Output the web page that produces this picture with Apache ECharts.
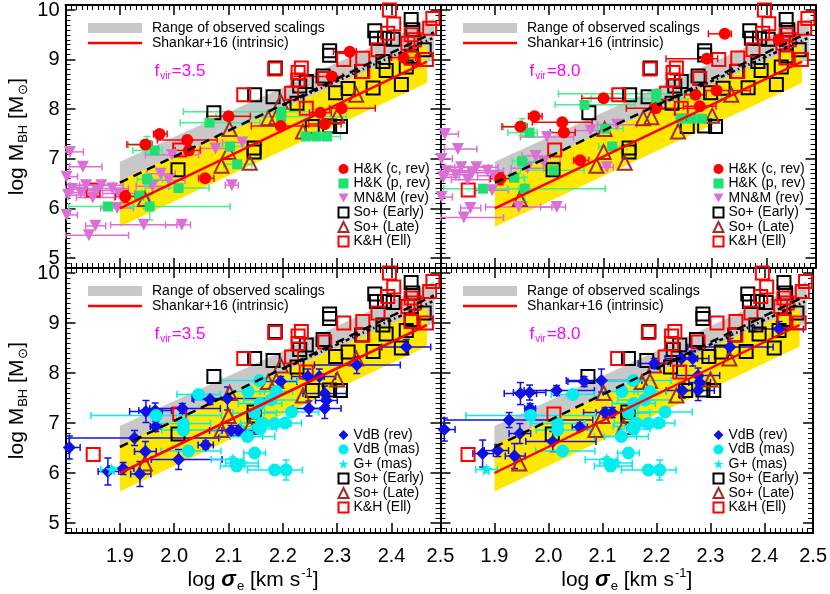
<!DOCTYPE html>
<html>
<head>
<meta charset="utf-8">
<script src="https://cdn.jsdelivr.net/npm/echarts@6/dist/echarts.min.js"></script>
<style>html,body{margin:0;padding:0;background:#fff}#c{width:830px;height:594px}</style>
</head>
<body>
<div id="c"></div>
<script>
// ---------------- data (log sigma_e, log M_BH, err-, err+, yerr-, yerr+) ----------------
const fvirLeft = 3.5, fvirRight = 8.0;
const FVIR_SHIFT = Math.log10(fvirRight / fvirLeft); // virial masses scale linearly with f_vir

// reverberation samples, values as plotted for f_vir = 3.5
const hkCoreRev = [
  [1.973, 7.50, 0.011, 0.014, 0.05, 0.05], [1.947, 7.29, 0.034, 0.012, 0.04, 0.04],
  [2.024, 7.38, 0.055, 0.055, 0.05, 0.05], [2.027, 7.17, 0.025, 0.021, 0.04, 0.04],
  [2.057, 6.61, 0.012, 0.016, 0.05, 0.05], [1.910, 6.24, 0.018, 0.018, 0.12, 0.12],
  [2.100, 7.86, 0.040, 0.040, 0.06, 0.06], [2.196, 7.66, 0.054, 0.084, 0.05, 0.05],
  [2.269, 7.93, 0.020, 0.020, 0.04, 0.04], [2.277, 7.70, 0.030, 0.030, 0.04, 0.04],
  [2.308, 8.02, 0.022, 0.062, 0.05, 0.05], [2.290, 8.66, 0.075, 0.020, 0.06, 0.06],
  [2.323, 9.16, 0.030, 0.012, 0.04, 0.04], [2.422, 9.04, 0.022, 0.022, 0.05, 0.05]
];
const hkPseudoRev = [
  [2.065, 7.73, 0.054, 0.093, 0.05, 0.05], [1.950, 7.28, 0.034, 0.009, 0.17, 0.17],
  [1.964, 7.17, 0.040, 0.014, 0.06, 0.06], [2.103, 7.25, 0.024, 0.033, 0.05, 0.05],
  [2.116, 6.89, 0.025, 0.027, 0.04, 0.04], [1.950, 6.59, 0.018, 0.028, 0.10, 0.10],
  [1.936, 6.26, 0.035, 0.017, 0.05, 0.05], [2.008, 6.41, 0.061, 0.056, 0.05, 0.05],
  [1.878, 6.04, 0.072, 0.066, 0.04, 0.04], [1.955, 6.04, 0.032, 0.148, 0.27, 0.23],
  [2.197, 7.95, 0.180, 0.090, 0.05, 0.05], [2.197, 7.85, 0.120, 0.120, 0.05, 0.05],
  [2.243, 7.45, 0.010, 0.010, 0.03, 0.03], [2.262, 7.45, 0.010, 0.010, 0.03, 0.03],
  [2.281, 7.45, 0.010, 0.025, 0.03, 0.03]
];
const mnmRev = [
  [1.808, 7.14, 0.010, 0.025, 0, 0], [1.832, 6.84, 0.025, 0.035, 0, 0],
  [1.802, 6.64, 0.005, 0.020, 0, 0], [1.812, 6.39, 0.012, 0.040, 0, 0],
  [1.828, 6.32, 0.020, 0.030, 0, 0], [1.838, 6.47, 0.030, 0.050, 0, 0],
  [1.850, 6.22, 0.030, 0.040, 0, 0], [1.866, 6.47, 0.040, 0.040, 0, 0],
  [1.886, 6.40, 0.050, 0.030, 0, 0], [1.898, 6.30, 0.030, 0.030, 0, 0],
  [1.858, 6.36, 0.030, 0.030, 0, 0], [1.805, 6.27, 0.005, 0.030, 0, 0],
  [1.895, 6.01, 0.030, 0.030, 0, 0], [1.802, 5.87, 0.005, 0.020, 0, 0],
  [1.855, 5.65, 0.018, 0.019, 0, 0], [1.944, 5.67, 0.061, 0.061, 0, 0],
  [2.014, 5.67, 0.030, 0.016, 0, 0], [1.843, 5.46, 0.043, 0.073, 0, 0],
  [1.975, 6.70, 0.025, 0.027, 0, 0], [1.990, 6.57, 0.030, 0.030, 0, 0],
  [1.960, 6.45, 0.030, 0.030, 0, 0], [1.996, 7.08, 0.049, 0.049, 0, 0],
  [2.076, 7.21, 0.028, 0.024, 0, 0], [2.125, 7.33, 0.036, 0.036, 0, 0],
  [2.106, 6.47, 0.012, 0.012, 0, 0]
];
const vdbRev = [
  [1.807, 6.51, 0.007, 0.020, 0.23, 0.23], [1.878, 6.03, 0.018, 0.020, 0.27, 0.27],
  [1.906, 6.09, 0.025, 0.020, 0.12, 0.12], [1.937, 5.98, 0.017, 0.020, 0.25, 0.25],
  [1.947, 6.43, 0.020, 0.020, 0.20, 0.20], [1.927, 6.70, 0.120, 0.155, 0.15, 0.15],
  [1.948, 7.23, 0.030, 0.030, 0.22, 0.22], [1.965, 7.25, 0.030, 0.030, 0.15, 0.15],
  [1.966, 6.93, 0.010, 0.010, 0.10, 0.10], [2.015, 7.29, 0.060, 0.070, 0.10, 0.10],
  [2.066, 7.47, 0.030, 0.030, 0.10, 0.10], [2.098, 7.49, 0.065, 0.075, 0.23, 0.23],
  [2.058, 6.56, 0.014, 0.014, 0.08, 0.08], [2.008, 6.27, 0.050, 0.080, 0.20, 0.20],
  [2.105, 6.85, 0.040, 0.040, 0.10, 0.10], [2.118, 6.85, 0.030, 0.030, 0.10, 0.10],
  [2.196, 7.83, 0.030, 0.030, 0.10, 0.10], [2.246, 7.93, 0.030, 0.030, 0.15, 0.15],
  [2.267, 7.93, 0.030, 0.030, 0.15, 0.15], [2.336, 8.16, 0.078, 0.080, 0.17, 0.17],
  [2.427, 8.52, 0.045, 0.045, 0.15, 0.15], [2.277, 7.59, 0.040, 0.040, 0.15, 0.15],
  [2.280, 7.45, 0.020, 0.020, 0.10, 0.10], [2.277, 7.29, 0.030, 0.030, 0.20, 0.20],
  [2.248, 7.29, 0.030, 0.030, 0.15, 0.15]
];
// maser samples (independent of f_vir)
const vdbMas = [
  [1.967, 7.15, 0.120, 0.120, 0.05, 0.05], [2.017, 6.99, 0.050, 0.050, 0.05, 0.05],
  [2.017, 6.86, 0.040, 0.060, 0.05, 0.05], [2.045, 7.57, 0.040, 0.040, 0.05, 0.05],
  [2.026, 6.44, 0.050, 0.060, 0.05, 0.05], [2.157, 7.85, 0.070, 0.070, 0.05, 0.05],
  [2.136, 7.63, 0.030, 0.030, 0.05, 0.05], [2.188, 7.63, 0.030, 0.030, 0.05, 0.05],
  [2.178, 7.46, 0.050, 0.050, 0.05, 0.05], [2.158, 7.39, 0.040, 0.040, 0.05, 0.05],
  [2.148, 7.20, 0.040, 0.040, 0.05, 0.05], [2.162, 7.00, 0.040, 0.040, 0.05, 0.05],
  [2.185, 6.99, 0.030, 0.030, 0.05, 0.05], [2.204, 7.00, 0.030, 0.030, 0.05, 0.05],
  [2.216, 7.22, 0.050, 0.050, 0.05, 0.05], [2.158, 6.88, 0.030, 0.030, 0.05, 0.05],
  [2.135, 6.73, 0.050, 0.050, 0.05, 0.05], [2.148, 6.40, 0.020, 0.020, 0.07, 0.07],
  [2.115, 6.14, 0.030, 0.040, 0.10, 0.10], [2.185, 6.06, 0.050, 0.020, 0.05, 0.05],
  [2.206, 6.06, 0.030, 0.030, 0.20, 0.20]
];
const gMas = [
  [1.885, 6.07, 0.020, 0.020, 0.05, 0.05], [2.108, 6.27, 0.040, 0.020, 0.05, 0.05],
  [2.125, 6.20, 0.030, 0.030, 0.05, 0.05], [2.133, 6.73, 0.030, 0.030, 0.05, 0.05],
  [2.150, 6.93, 0.030, 0.030, 0.05, 0.05]
];
// dynamical samples (same in every panel)
const soEarly = [
  [2.369, 9.58], [2.436, 9.81], [2.372, 9.43], [2.387, 9.43], [2.403, 9.41], [2.439, 9.60],
  [2.286, 9.18], [2.286, 9.09], [2.186, 8.83], [2.274, 8.67], [2.231, 8.47], [2.243, 8.56],
  [2.148, 8.29], [2.182, 8.25], [2.073, 7.93], [2.320, 8.42], [2.297, 8.33], [2.366, 8.43],
  [2.345, 8.76], [2.390, 8.78], [2.384, 8.96], [2.418, 8.50], [2.427, 8.85], [2.460, 9.20],
  [2.436, 9.07], [2.254, 7.65], [2.286, 7.66], [2.306, 7.65], [2.147, 7.22], [2.147, 7.14],
  [2.007, 6.78], [2.226, 8.12]
];
const soLate = [
  [1.946, 6.19], [2.087, 6.86], [2.139, 6.92], [2.100, 7.14], [2.102, 7.60], [2.173, 7.82],
  [2.188, 7.84], [2.196, 8.15], [2.237, 7.55], [2.300, 7.87], [2.335, 8.29]
];
const khEll = [
  [2.396, 10.00], [2.404, 9.72], [2.393, 9.53], [2.476, 9.83], [2.470, 9.63], [2.430, 9.33],
  [2.442, 9.40], [2.436, 9.50], [2.375, 9.20], [2.436, 9.03], [2.464, 9.00], [2.347, 9.03],
  [2.312, 9.00], [2.347, 8.76], [2.234, 8.83], [2.228, 8.74], [2.228, 8.59], [2.185, 8.81],
  [2.128, 8.29], [2.277, 8.62], [2.243, 8.02], [2.216, 8.32], [2.010, 7.18], [1.851, 6.37]
];
// relations
const grayBand = [[1.90, 6.94], [2.478, 9.83], [2.478, 9.00], [1.90, 6.25]];
const yellowBand = [[1.90, 6.57], [2.465, 9.30], [2.465, 8.53], [1.90, 5.63]];
const shankarLine = [[1.90, 6.00], [2.465, 8.96]];
const dashedLine = [[1.90, 6.52], [2.478, 9.55]];
const dottedLine = [[2.20, 8.08], [2.475, 9.43]];
const fvirLabels = ['3.5', '8.0'];
const xRange = [1.8, 2.49];
const yRange = [4.8, 10.1];

// ---------------- styling ----------------
const FONT = "'Liberation Sans', Arial, Helvetica, sans-serif";
const DOWN_TRI = 'path://M0,0L10,0L5,9Z';
const STAR = 'path://M5,0L6.2,3.6L10,3.6L6.9,5.8L8.1,9.5L5,7.2L1.9,9.5L3.1,5.8L0,3.6L3.8,3.6Z';
const C = {
  gray: '#c8c8c8', yellow: '#ffe800', red: '#ff0000', green: '#20e070', greenErr: '#44f08a',
  violet: '#da70d6', brown: '#a52a2a', blue: '#1010e8', cyan: '#00eeee', magenta: '#ff00ff'
};

const hkSets = [
  {name: 'MN&M (rev)', data: mnmRev, rev: true, symbol: DOWN_TRI, size: 12, color: C.violet, err: C.violet},
  {name: 'H&K (p, rev)', data: hkPseudoRev, rev: true, symbol: 'rect', size: 10, color: C.green, err: C.greenErr},
  {name: 'H&K (c, rev)', data: hkCoreRev, rev: true, symbol: 'circle', size: 12, color: C.red, err: C.red}
];
const vdbSets = [
  {name: 'VdB (rev)', data: vdbRev, rev: true, symbol: 'diamond', size: 13, color: C.blue, err: C.blue},
  {name: 'VdB (mas)', data: vdbMas, rev: false, symbol: 'circle', size: 13, color: C.cyan, err: C.cyan},
  {name: 'G+ (mas)', data: gMas, rev: false, symbol: STAR, size: 13, color: C.cyan, err: C.cyan}
];
const dynSets = [
  {name: 'So+ (Early)', data: soEarly, symbol: 'rect', size: 13, stroke: '#000'},
  {name: 'So+ (Late)', data: soLate, symbol: 'triangle', size: 14, stroke: C.brown},
  {name: 'K&H (Ell)', data: khEll, symbol: 'rect', size: 13, stroke: C.red}
];

const panels = [
  {left: 65.5, top: 5, height: 263, fv: 0, sets: hkSets, xLab: false, yLab: true, legTop: 157},
  {left: 440.5, top: 5, height: 263, fv: 1, sets: hkSets, xLab: false, yLab: false, legTop: 157},
  {left: 65.5, top: 268, height: 265, fv: 0, sets: vdbSets, xLab: true, yLab: true, legTop: 160},
  {left: 440.5, top: 268, height: 265, fv: 1, sets: vdbSets, xLab: true, yLab: false, legTop: 160}
];

const grid = [], xAxis = [], yAxis = [], series = [], legend = [], title = [];

function tickCfg(len) { return {show: true, inside: true, length: len, lineStyle: {color: '#000', width: 1.5}}; }
function minorCfg() { return {show: true, splitNumber: 10, length: 5, lineStyle: {color: '#000', width: 1}}; }

function errRender(color) {
  return function (params, api) {
    const x = api.value(0), y = api.value(1);
    const xm = api.value(2), xp = api.value(3), ym = api.value(4), yp = api.value(5);
    const ch = [];
    const cap = 3.5;
    const seg = (x1, y1, x2, y2) => ch.push({type: 'line', shape: {x1, y1, x2, y2}, style: {stroke: color, lineWidth: 1.5}});
    if (xm > 0 || xp > 0) {
      const a = api.coord([x - xm, y]), b = api.coord([x + xp, y]);
      seg(a[0], a[1], b[0], b[1]);
      if (xm > 0) seg(a[0], a[1] - cap, a[0], a[1] + cap);
      if (xp > 0) seg(b[0], b[1] - cap, b[0], b[1] + cap);
    }
    if (ym > 0 || yp > 0) {
      const a = api.coord([x, y - ym]), b = api.coord([x, y + yp]);
      seg(a[0], a[1], b[0], b[1]);
      if (ym > 0) seg(a[0] - cap, a[1], a[0] + cap, a[1]);
      if (yp > 0) seg(b[0] - cap, b[1], b[0] + cap, b[1]);
    }
    return {type: 'group', children: ch};
  };
}

function legendIcon(s) {
  if (s.stroke) {
    return {name: s.name, icon: s.symbol, itemStyle: {color: 'rgba(0,0,0,0)', borderColor: s.stroke, borderWidth: 2}};
  }
  return {name: s.name, icon: s.symbol, itemStyle: {color: s.color, borderWidth: 0}};
}

panels.forEach((p, i) => {
  grid.push({left: p.left, top: p.top, width: 375, height: p.height, containLabel: false});
  const xBase = {type: 'value', gridIndex: i, min: xRange[0], max: xRange[1], interval: 0.1,
    axisLine: {show: true, onZero: false, lineStyle: {color: '#000', width: 2}},
    axisTick: tickCfg(10), minorTick: minorCfg(), splitLine: {show: false}, minorSplitLine: {show: false}};
  xAxis.push(Object.assign({}, xBase, {position: 'bottom',
    axisLabel: {show: p.xLab, fontSize: 20, fontFamily: FONT, color: '#000', margin: 13,
      formatter: v => (v < 1.85 ? '' : v.toFixed(1))},
    name: p.xLab ? '{a|log }{g|σ}{s|e}{a| [km s}{p|-1}{a|]}' : '',
    nameLocation: 'middle', nameGap: 30,
    nameTextStyle: {fontFamily: FONT, fontSize: 21, color: '#000', rich: {
      a: {fontFamily: FONT, fontSize: 21, color: '#000'},
      g: {fontFamily: FONT, fontSize: 22, color: '#000', fontStyle: 'italic', fontWeight: 'bold'},
      s: {fontFamily: FONT, fontSize: 13, color: '#000', padding: [12, 0, 0, 1]},
      p: {fontFamily: FONT, fontSize: 13, color: '#000', padding: [0, 0, 14, 1]}
    }}}));
  xAxis.push(Object.assign({}, xBase, {position: 'top', axisLabel: {show: false}}));
  const yBase = {type: 'value', gridIndex: i, min: yRange[0], max: yRange[1], splitNumber: 5,
    axisLine: {show: true, onZero: false, lineStyle: {color: '#000', width: 2}},
    axisTick: tickCfg(10), minorTick: minorCfg(), splitLine: {show: false}, minorSplitLine: {show: false}};
  yAxis.push(Object.assign({}, yBase, {position: 'left',
    axisLabel: {show: p.yLab, fontSize: 20, fontFamily: FONT, color: '#000', margin: 6,
      formatter: v => (Math.abs(v - Math.round(v)) < 1e-6 ? String(Math.round(v)) : '')},
    name: p.yLab ? '{a|log M}{s|BH}{a| [M}{s|⊙}{a|]}' : '',
    nameLocation: 'middle', nameGap: 36,
    nameTextStyle: {fontFamily: FONT, fontSize: 21, color: '#000', rich: {
      a: {fontFamily: FONT, fontSize: 21, color: '#000'},
      s: {fontFamily: FONT, fontSize: 13, color: '#000', padding: [12, 0, 0, 1]}
    }}}));
  yAxis.push(Object.assign({}, yBase, {position: 'right', axisLabel: {show: false}}));

  const xi = 2 * i, yi = 2 * i;
  const shift = p.fv === 1 ? FVIR_SHIFT : 0;
  // bands
  [['Range of observed scalings', grayBand, C.gray], ['Intrinsic scatter', yellowBand, C.yellow]].forEach(([nm, poly, col]) => {
    series.push({type: 'custom', name: nm, xAxisIndex: xi, yAxisIndex: yi, silent: true, clip: true,
      data: [poly[0]], encode: {x: 0, y: 1},
      renderItem: (params, api) => ({type: 'polygon', shape: {points: poly.map(q => api.coord(q))}, style: {fill: col}})});
  });
  series.push({type: 'line', name: 'Shankar+16 (intrinsic)', xAxisIndex: xi, yAxisIndex: yi, data: shankarLine,
    showSymbol: false, symbol: 'none', silent: true, lineStyle: {color: C.red, width: 2.5}, itemStyle: {color: C.red}});
  series.push({type: 'line', name: 'obs dashed', xAxisIndex: xi, yAxisIndex: yi, data: dashedLine,
    showSymbol: false, symbol: 'none', silent: true, lineStyle: {color: '#000', width: 2.5, type: [9, 6]}});
  series.push({type: 'line', name: 'obs dotted', xAxisIndex: xi, yAxisIndex: yi, data: dottedLine,
    showSymbol: false, symbol: 'none', silent: true, lineStyle: {color: '#000', width: 2.5, type: [4, 3, 1.5, 3]}});
  // dynamical samples
  dynSets.forEach(s => {
    series.push({type: 'scatter', name: s.name, xAxisIndex: xi, yAxisIndex: yi, data: s.data.map(d => [d[0], d[1]]),
      symbol: s.symbol, symbolSize: s.size, silent: true,
      itemStyle: {color: 'rgba(0,0,0,0)', borderColor: s.stroke, borderWidth: 2, opacity: 1}});
  });
  // virial / maser samples with error bars
  p.sets.forEach(s => {
    const dy = s.rev ? shift : 0;
    const pts = s.data.map(d => [d[0], d[1] + dy, d[2], d[3], d[4], d[5]]);
    series.push({type: 'custom', name: s.name + ' err', xAxisIndex: xi, yAxisIndex: yi, silent: true, clip: true,
      dimensions: ['x', 'y', 'xm', 'xp', 'ym', 'yp'], encode: {x: 0, y: 1}, data: pts, renderItem: errRender(s.err)});
    series.push({type: 'scatter', name: s.name, xAxisIndex: xi, yAxisIndex: yi, data: pts.map(d => [d[0], d[1]]),
      symbol: s.symbol, symbolSize: s.size, silent: true, itemStyle: {color: s.color, opacity: 1}});
  });

  // legends
  const txt = {fontFamily: FONT, fontSize: 14, color: '#000'};
  legend.push({left: p.left + 22.5, top: p.top + 16, itemWidth: 54, itemHeight: 10, selectedMode: false,
    textStyle: Object.assign({padding: [0, 0, 0, 5]}, txt), padding: 0,
    data: [{name: 'Range of observed scalings', icon: 'rect', itemStyle: {color: C.gray, borderWidth: 0}}]});
  legend.push({left: p.left + 22.5, top: p.top + 31, itemWidth: 54, itemHeight: 2.5, selectedMode: false,
    textStyle: Object.assign({padding: [0, 0, 0, 5]}, txt), padding: 0,
    data: [{name: 'Shankar+16 (intrinsic)', icon: 'rect', itemStyle: {color: C.red, borderWidth: 0}}]});
  const legSets = (p.sets === hkSets ? [hkSets[2], hkSets[1], hkSets[0]] : vdbSets).concat(dynSets);
  legend.push({orient: 'vertical', left: p.left + 272, top: p.top + p.legTop, itemWidth: 10, itemHeight: 10,
    itemGap: 0.5, selectedMode: false, padding: 0, textStyle: Object.assign({lineHeight: 14}, txt),
    data: legSets.map(legendIcon)});

  title.push({text: '{f|f}{s|vir}{f|=' + fvirLabels[p.fv] + '}', left: p.left + 89, top: p.top + 56, padding: 0,
    textStyle: {fontWeight: 'normal', rich: {
      f: {fontFamily: FONT, fontSize: 17, fontWeight: 'normal', color: C.magenta},
      s: {fontFamily: FONT, fontSize: 10, fontWeight: 'normal', color: C.magenta, padding: [10, 1, 0, 1]}
    }}});
});

const chart = echarts.init(document.getElementById('c'), null, {renderer: 'canvas'});
chart.setOption({animation: false, backgroundColor: '#fff', grid, xAxis, yAxis, series, legend, title});
</script>
</body>
</html>
